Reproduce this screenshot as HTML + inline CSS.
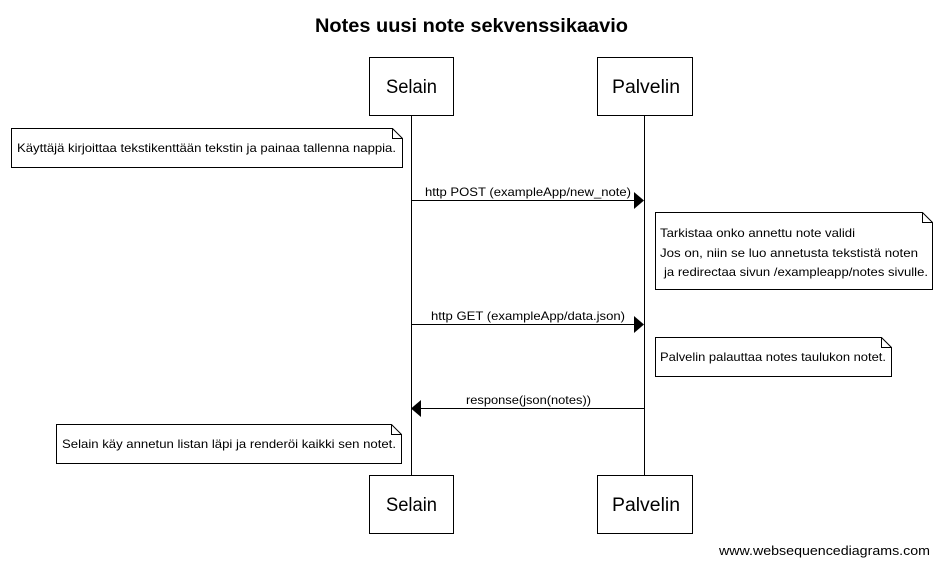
<!DOCTYPE html>
<html><head><meta charset="utf-8"><style>body{margin:0;background:#fff}svg{display:block}</style></head><body>
<svg width="939" height="566" xmlns="http://www.w3.org/2000/svg" font-family="Liberation Sans, Arial, sans-serif">
<rect width="939" height="566" fill="#fff"/>
<text x="315" y="32" font-size="19" font-weight="bold" textLength="313" lengthAdjust="spacingAndGlyphs">Notes uusi note sekvenssikaavio</text>
<g stroke="#000" stroke-width="1" fill="#fff">
<line x1="411.5" y1="115" x2="411.5" y2="475"/>
<line x1="644.5" y1="115" x2="644.5" y2="475"/>
<rect x="369.5" y="57.5" width="84" height="58"/>
<rect x="597.5" y="57.5" width="95" height="58"/>
<rect x="369.5" y="475.5" width="84" height="58"/>
<rect x="597.5" y="475.5" width="95" height="58"/>
<path d="M11.5,128.5 H392.5 L402.5,138.5 V167.5 H11.5 Z"/><path d="M392.5,128.5 V138.5 H402.5" fill="none"/>
<path d="M655.5,212.5 H922.5 L932.5,222.5 V289.5 H655.5 Z"/><path d="M922.5,212.5 V222.5 H932.5" fill="none"/>
<path d="M655.5,337.5 H881.5 L891.5,347.5 V376.5 H655.5 Z"/><path d="M881.5,337.5 V347.5 H891.5" fill="none"/>
<path d="M56.5,424.5 H391.5 L401.5,434.5 V463.5 H56.5 Z"/><path d="M391.5,424.5 V434.5 H401.5" fill="none"/>
<line x1="411" y1="200.5" x2="636" y2="200.5"/>
<line x1="411" y1="324.5" x2="636" y2="324.5"/>
<line x1="420" y1="408.5" x2="644" y2="408.5"/>
</g>
<g fill="#000">
<polygon points="634,192 644,200.5 634,209"/>
<polygon points="634,316 644,324.5 634,333"/>
<polygon points="421,400 411,408.5 421,417"/>
</g>
<g font-size="19" lengthAdjust="spacingAndGlyphs">
<text x="386" y="93" textLength="51" lengthAdjust="spacingAndGlyphs">Selain</text><text x="612" y="93" textLength="68" lengthAdjust="spacingAndGlyphs">Palvelin</text>
<text x="386" y="511" textLength="51" lengthAdjust="spacingAndGlyphs">Selain</text><text x="612" y="511" textLength="68" lengthAdjust="spacingAndGlyphs">Palvelin</text>
</g>
<g font-size="12">
<text x="17" y="152" textLength="379" lengthAdjust="spacingAndGlyphs">Käyttäjä kirjoittaa tekstikenttään tekstin ja painaa tallenna nappia.</text>
<text x="425" y="196" textLength="206" lengthAdjust="spacingAndGlyphs">http POST (exampleApp/new_note)</text>
<text x="660" y="237" textLength="195" lengthAdjust="spacingAndGlyphs">Tarkistaa onko annettu note validi</text>
<text x="660" y="257" textLength="258" lengthAdjust="spacingAndGlyphs">Jos on, niin se luo annetusta tekstistä noten</text>
<text x="664" y="276" textLength="264" lengthAdjust="spacingAndGlyphs">ja redirectaa sivun /exampleapp/notes sivulle.</text>
<text x="431" y="320" textLength="194" lengthAdjust="spacingAndGlyphs">http GET (exampleApp/data.json)</text>
<text x="660" y="361" textLength="226" lengthAdjust="spacingAndGlyphs">Palvelin palauttaa notes taulukon notet.</text>
<text x="466" y="404" textLength="125" lengthAdjust="spacingAndGlyphs">response(json(notes))</text>
<text x="62" y="448" textLength="334" lengthAdjust="spacingAndGlyphs">Selain käy annetun listan läpi ja renderöi kaikki sen notet.</text>
<text x="719" y="555" font-size="13" textLength="211" lengthAdjust="spacingAndGlyphs">www.websequencediagrams.com</text>
</g>
</svg>
</body></html>
